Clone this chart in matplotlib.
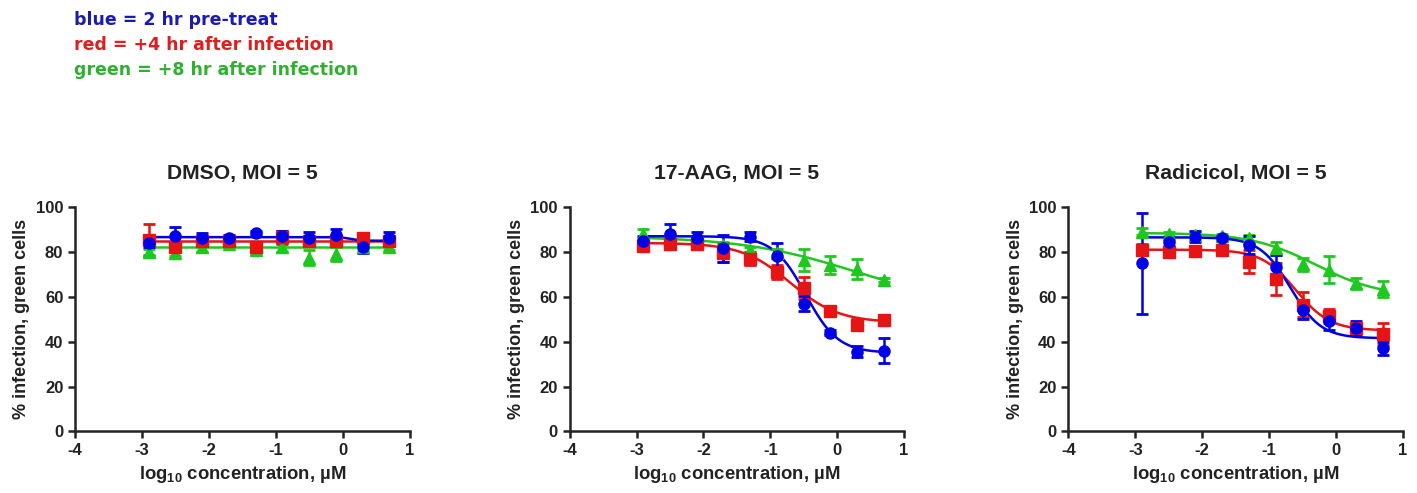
import numpy as np
import matplotlib
matplotlib.use("Agg")
import matplotlib.pyplot as plt

# log10 concentration (uM)
log_conc = [-2.9, -2.5, -2.1, -1.7, -1.3, -0.9, -0.5, -0.1, 0.3, 0.7]

panel_titles = ["DMSO, MOI = 5", "17-AAG, MOI = 5", "Radicicol, MOI = 5"]

# mean % infection per panel: blue (2 hr pre-treat), red (+4 hr), green (+8 hr)
dmso_blue = [84.0, 87.2, 86.4, 86.0, 88.3, 87.2, 86.0, 87.5, 82.0, 86.0]
dmso_red = [85.3, 82.0, 85.0, 85.0, 82.0, 86.5, 85.0, 85.0, 86.0, 85.0]
dmso_green = [80.0, 79.5, 82.0, 83.5, 81.0, 82.0, 77.5, 79.0, 82.0, 82.0]
dmso_blue_err = [2.0, 4.0, 2.0, 1.5, 1.0, 2.0, 3.0, 2.5, 2.5, 3.0]
dmso_red_err = [7.0, 2.0, 1.5, 1.5, 1.5, 3.0, 1.5, 1.5, 1.5, 1.5]
dmso_green_err = [1.5, 1.5, 2.0, 1.0, 2.0, 2.0, 3.5, 3.0, 1.0, 1.0]

aag_blue = [85.0, 88.0, 86.0, 81.6, 86.8, 78.0, 57.0, 44.0, 35.5, 36.0]
aag_red = [82.5, 83.5, 83.5, 79.4, 77.0, 71.0, 64.0, 53.5, 47.5, 49.8]
aag_green = [88.0, 86.5, 85.3, 83.0, 81.0, 79.5, 76.5, 74.0, 72.5, 67.5]
aag_blue_err = [2.0, 4.5, 3.0, 6.0, 2.0, 6.0, 3.5, 1.0, 2.5, 5.5]
aag_red_err = [1.5, 2.0, 1.5, 4.0, 3.0, 3.0, 5.0, 1.5, 2.5, 1.0]
aag_green_err = [2.0, 1.5, 1.5, 1.5, 1.0, 2.0, 5.0, 4.0, 4.5, 1.0]

rad_blue = [75.0, 84.6, 86.8, 86.0, 83.0, 73.5, 54.0, 49.0, 46.0, 37.0]
rad_red = [81.0, 80.0, 80.5, 81.0, 75.7, 68.0, 56.5, 51.5, 46.0, 43.5]
rad_green = [89.0, 88.0, 87.7, 87.0, 86.0, 81.6, 74.5, 72.0, 66.0, 63.5]
rad_blue_err = [22.5, 2.0, 2.5, 1.0, 4.0, 5.0, 4.0, 4.0, 3.0, 3.0]
rad_red_err = [2.5, 2.0, 2.0, 1.5, 5.0, 7.0, 5.5, 3.0, 2.0, 5.0]
rad_green_err = [1.5, 1.0, 1.0, 1.0, 1.5, 3.0, 3.0, 6.0, 2.5, 3.5]

# fitted curves: top, bottom, logEC50, hill
dmso_fit = [(86.6, 85.0, 0.12, 6.0), (85.0, 85.0, 0.0, 1.0), (82.0, 82.0, 0.0, 1.0)]
aag_fit = [(87.0, 35.0, -0.47, 1.8), (84.0, 48.5, -0.70, 1.2), (87.0, 55.0, 0.30, 0.5)]
rad_fit = [(86.5, 41.5, -0.68, 1.9), (81.0, 45.0, -0.60, 1.7), (88.5, 60.0, -0.30, 0.9)]

panels = [
    ([dmso_blue, dmso_red, dmso_green], [dmso_blue_err, dmso_red_err, dmso_green_err], dmso_fit),
    ([aag_blue, aag_red, aag_green], [aag_blue_err, aag_red_err, aag_green_err], aag_fit),
    ([rad_blue, rad_red, rad_green], [rad_blue_err, rad_red_err, rad_green_err], rad_fit),
]

colors = ["#0000e6", "#e61414", "#1ec81e"]
markers = ["o", "s", "^"]

legend_lines = ["blue = 2 hr pre-treat", "red = +4 hr after infection", "green = +8 hr after infection"]
legend_colors = ["#1a1ab4", "#dc2020", "#30b030"]


def four_pl(x, top, bottom, logec50, hill):
    return bottom + (top - bottom) / (1 + 10 ** ((x - logec50) * hill))


plt.rcParams['font.family'] = ['Liberation Sans', 'DejaVu Sans']
plt.rcParams['axes.unicode_minus'] = False
plt.rcParams['mathtext.fontset'] = 'custom'
plt.rcParams['mathtext.rm'] = 'Liberation Sans:bold'
plt.rcParams['mathtext.bf'] = 'Liberation Sans:bold'

fig = plt.figure(figsize=(14.17, 4.93), dpi=100)
lefts = [0.053, 0.402, 0.754]

x = np.array(log_conc)
xs = np.linspace(x.min(), x.max(), 300)

for i, (means, errs, fits) in enumerate(panels):
    ax = fig.add_axes([lefts[i], 0.125, 0.236, 0.455])
    # draw green, red, blue so blue ends up on top
    for j in [2, 1, 0]:
        top, bottom, c, h = fits[j]
        ax.plot(xs, four_pl(xs, top, bottom, c, h), color=colors[j], lw=1.8, zorder=2)
        ax.errorbar(x, means[j], yerr=errs[j], fmt=markers[j], color=colors[j],
                    ms=8, elinewidth=1.8, capsize=4, capthick=2, zorder=3)
    ax.set_xlim(-4, 1)
    ax.set_ylim(0, 100)
    ax.set_xticks([-4, -3, -2, -1, 0, 1])
    ax.set_yticks([0, 20, 40, 60, 80, 100])
    ax.spines['top'].set_visible(False)
    ax.spines['right'].set_visible(False)
    for s in ['left', 'bottom']:
        ax.spines[s].set_linewidth(1.8)
        ax.spines[s].set_color('#222222')
    ax.tick_params(width=1.8, length=5, labelsize=12, color='#222222')
    for lab in ax.get_xticklabels() + ax.get_yticklabels():
        lab.set_fontweight('bold')
        lab.set_color('#222222')
    ax.set_xlabel(r'$\mathbf{log_{10}}$ concentration, µM', fontsize=13.3, fontweight='bold', color='#222222')
    ax.set_ylabel('% infection, green cells', fontsize=13, fontweight='bold', color='#222222')
    ax.set_title(panel_titles[i], fontsize=15.2, fontweight='bold', color='#222222', pad=20)

for k, (txt, col) in enumerate(zip(legend_lines, legend_colors)):
    fig.text(0.052, 0.96 - k * 0.051, txt, color=col, fontsize=12.5, fontweight='bold',
             family='DejaVu Sans', va='center')

fig.savefig('out.png', dpi=100)
